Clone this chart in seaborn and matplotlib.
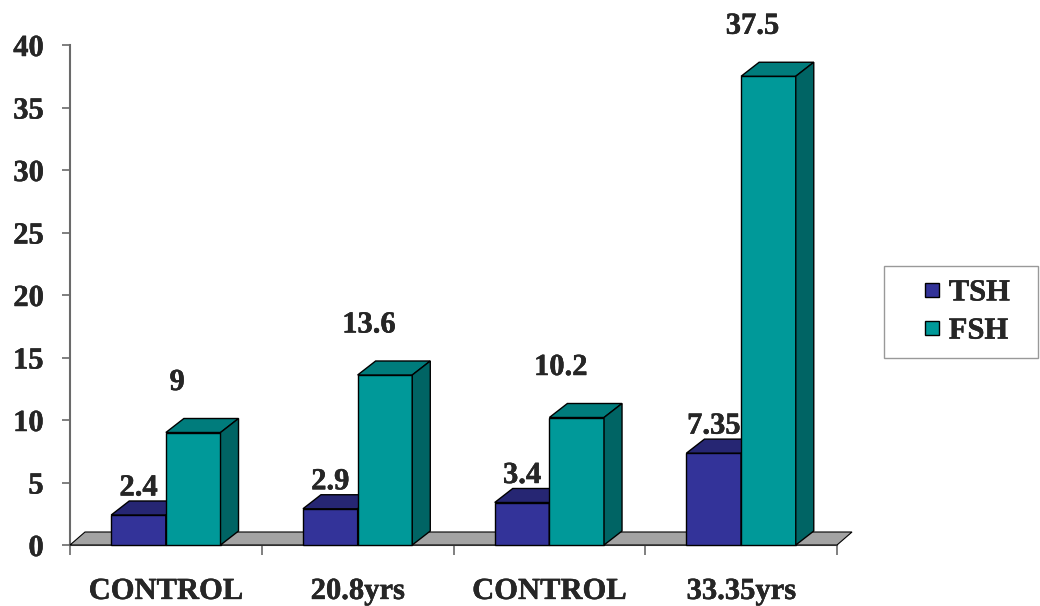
import numpy as np
import pandas as pd
import matplotlib
matplotlib.use("Agg")
import matplotlib.pyplot as plt
import matplotlib.patheffects as pe
from matplotlib.patches import Polygon
from matplotlib.lines import Line2D
import seaborn as sns

# ---- data -------------------------------------------------------------
categories = ["CONTROL", "20.8yrs", "CONTROL", "33.35yrs"]
series = ["TSH", "FSH"]
tsh_values = [2.4, 2.9, 3.4, 7.35]
fsh_values = [9, 13.6, 10.2, 37.5]
y_ticks = [0, 5, 10, 15, 20, 25, 30, 35, 40]

# ---- styling ------------------------------------------------------------
front_colors = {"TSH": "#333399", "FSH": "#009999"}
top_colors = {"TSH": "#262673", "FSH": "#007c7c"}
side_colors = {"TSH": "#1f1f5c", "FSH": "#006464"}
floor_color = "#a3a3a3"
axis_color = "#6a6a6a"
FONT = "Liberation Serif"
FS = 22
heavy = [pe.withStroke(linewidth=0.3, foreground="black")]

sns.set_theme(style="white")
plt.rcParams["font.family"] = [FONT, "DejaVu Serif"]
plt.rcParams["font.weight"] = "bold"

df = pd.DataFrame({
    "group": np.tile(np.arange(len(categories)), len(series)),
    "hormone": np.repeat(series, len(categories)),
    "value": tsh_values + fsh_values,
})

fig = plt.figure(figsize=(10.4, 6.06), dpi=100)
ax = fig.add_axes([70 / 1040, 61 / 606, 767 / 1040, 500 / 606])

sns.barplot(data=df, x="group", y="value", hue="hormone",
            hue_order=series, palette=front_colors, width=0.57, gap=0,
            edgecolor="black", linewidth=1.0, saturation=1, legend=False,
            errorbar=None, ax=ax)

ax.set_xlim(-0.5, len(categories) - 0.5)
ax.set_ylim(0, 40)


def shift(x, y, dxp, dyp):
    """Move a data point by a pixel offset and return data coordinates."""
    p = ax.transData.transform((x, y))
    return ax.transData.inverted().transform((p[0] + dxp, p[1] + dyp))


# floor of the 3-D plot
FLOOR_DX, FLOOR_DY = 15, 13
x0, x1 = ax.get_xlim()
floor_pts = [(x0, 0), (x1, 0), tuple(shift(x1, 0, FLOOR_DX, FLOOR_DY)),
             tuple(shift(x0, 0, FLOOR_DX, FLOOR_DY))]
ax.add_patch(Polygon(floor_pts, closed=True, facecolor=floor_color,
                     edgecolor="black", linewidth=0.8, zorder=1, clip_on=False))

# depth faces of each bar
BAR_DX, BAR_DY = 18, 14
for h_idx, (name, container) in enumerate(zip(series, ax.containers)):
    base_z = 2 + 2 * h_idx
    for bar in container:
        bar.set_zorder(base_z)
        bar.set_clip_on(False)
        bx, bw, bh = bar.get_x(), bar.get_width(), bar.get_height()
        tl, tr = (bx, bh), (bx + bw, bh)
        br = (bx + bw, 0)
        tl_b = tuple(shift(*tl, BAR_DX, BAR_DY))
        tr_b = tuple(shift(*tr, BAR_DX, BAR_DY))
        br_b = tuple(shift(*br, BAR_DX, BAR_DY))
        ax.add_patch(Polygon([tl, tr, tr_b, tl_b], closed=True,
                             facecolor=top_colors[name], edgecolor="black",
                             linewidth=1.0, zorder=base_z + 0.5, clip_on=False))
        ax.add_patch(Polygon([br, tr, tr_b, br_b], closed=True,
                             facecolor=side_colors[name], edgecolor="black",
                             linewidth=1.0, zorder=base_z + 0.5, clip_on=False))

# value labels
label_offsets = {"TSH": (0, 27), "FSH": (-16, 50)}
for name, container, vals in zip(series, ax.containers, [tsh_values, fsh_values]):
    for bar, v in zip(container, vals):
        cx = bar.get_x() + bar.get_width() / 2
        ax.annotate(f"{v:g}", xy=(cx, v), xytext=label_offsets[name],
                    textcoords="offset pixels", ha="center", va="center",
                    fontsize=FS, fontweight="bold", family=FONT,
                    zorder=10, annotation_clip=False, path_effects=heavy)

# axes
for side in ["top", "right"]:
    ax.spines[side].set_visible(False)
for side in ["left", "bottom"]:
    ax.spines[side].set_color(axis_color)
    ax.spines[side].set_linewidth(1.5)
    ax.spines[side].set_zorder(0.5)

ax.set_yticks(y_ticks)
ax.set_yticklabels([str(t) for t in y_ticks])
ax.tick_params(axis="y", direction="out", length=6, width=1.2, color=axis_color,
               pad=13, labelsize=FS, left=True)

ax.set_xticks(range(len(categories)))
ax.set_xticklabels(categories)
ax.set_xticks(np.arange(-0.5, len(categories)), minor=True)
ax.tick_params(axis="x", which="major", length=0, pad=23, labelsize=FS)
ax.tick_params(axis="x", which="minor", direction="out", length=7, width=1.2,
               color=axis_color, bottom=True)
for lab in ax.get_xticklabels() + ax.get_yticklabels():
    lab.set_fontweight("bold")
    lab.set_family(FONT)
    lab.set_path_effects(heavy)
ax.set_xlabel("")
ax.set_ylabel("")

# legend
handles = [Line2D([0], [0], marker="s", linestyle="none", markersize=10.5,
                  markerfacecolor=front_colors[s], markeredgecolor="black",
                  markeredgewidth=1.0) for s in series]
leg = fig.legend(handles, series, loc="center left", mode="expand",
                 bbox_to_anchor=(884 / 1040, 1 - 357 / 606, 154 / 1040, 90 / 606),
                 prop={"family": FONT, "weight": "bold", "size": FS},
                 frameon=True, fancybox=False, edgecolor="#808080",
                 borderpad=0.42, handlelength=2.3, handletextpad=-0.6,
                 labelspacing=0.3, borderaxespad=0)
leg.get_frame().set_linewidth(1.0)
for t in leg.get_texts():
    t.set_path_effects(heavy)

fig.savefig("out.png", dpi=100)
